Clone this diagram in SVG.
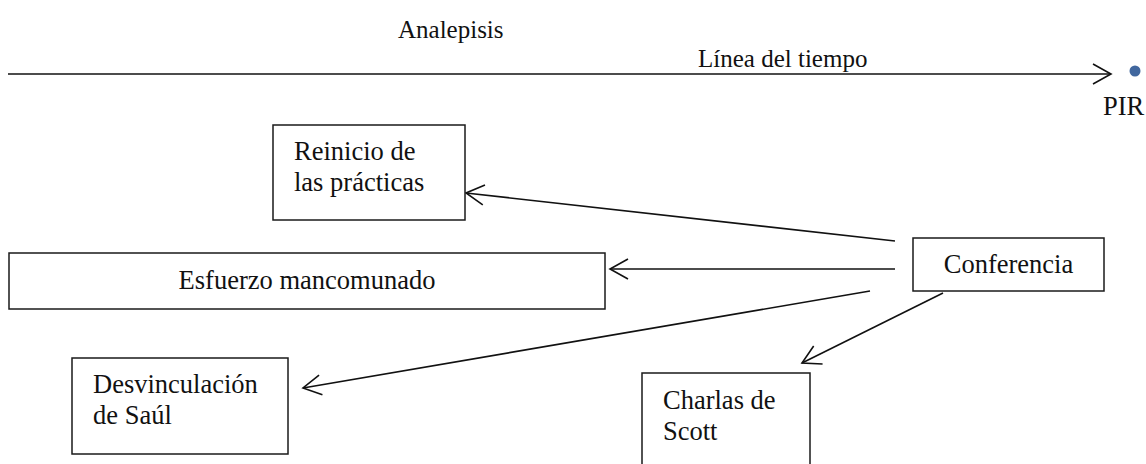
<svg xmlns="http://www.w3.org/2000/svg" width="1146" height="464" viewBox="0 0 1146 464">
  <style>
    .box { fill: #ffffff; stroke: #1a1a1a; stroke-width: 1.5; }
    .lbl { font-family: "Liberation Serif", "Times New Roman", serif; font-size: 26.5px; fill: #111111; }
    .conn { stroke: #111111; stroke-width: 1.6; fill: none; marker-end: url(#open); }
  </style>
  <defs>
    <marker id="open" markerUnits="userSpaceOnUse" viewBox="-22 -13 26 26" markerWidth="26" markerHeight="26" refX="0" refY="0" orient="auto" overflow="visible">
      <path d="M-18,-10 L0,0 L-18,10" fill="none" stroke="#111111" stroke-width="1.6"/>
    </marker>
  </defs>
  <rect width="1146" height="464" fill="#ffffff"/>

  <g id="timeline">
    <text class="lbl" x="398" y="38" style="font-size:25px">Analepisis</text>
    <text class="lbl" x="698" y="67" style="font-size:25px">Línea del tiempo</text>
    <text class="lbl" x="1103" y="115">PIR</text>
    <circle cx="1135" cy="71" r="5.5" fill="#41679e"/>
  </g>

  <g id="connectors">
    <line class="conn" x1="8" y1="74" x2="1111" y2="74"/>
    <line class="conn" x1="895" y1="241" x2="466" y2="193"/>
    <line class="conn" x1="895" y1="269" x2="610" y2="269"/>
    <line class="conn" x1="870" y1="291" x2="303" y2="388"/>
    <line class="conn" x1="943" y1="293" x2="802" y2="363"/>
  </g>

  <g id="node-reinicio">
    <rect class="box" x="273" y="125" width="192" height="95"/>
    <text class="lbl" x="294" y="160">Reinicio de</text>
    <text class="lbl" x="294" y="191">las prácticas</text>
  </g>

  <g id="node-esfuerzo">
    <rect class="box" x="9" y="253" width="596" height="56"/>
    <text class="lbl" x="307" y="289" text-anchor="middle">Esfuerzo mancomunado</text>
  </g>

  <g id="node-conferencia">
    <rect class="box" x="913" y="238" width="191" height="53"/>
    <text class="lbl" x="1008.5" y="273" text-anchor="middle">Conferencia</text>
  </g>

  <g id="node-desvinculacion">
    <rect class="box" x="72" y="358" width="216" height="96"/>
    <text class="lbl" x="93" y="393">Desvinculación</text>
    <text class="lbl" x="93" y="424">de Saúl</text>
  </g>

  <g id="node-charlas">
    <rect class="box" x="642" y="373" width="168" height="100"/>
    <text class="lbl" x="663" y="409">Charlas de</text>
    <text class="lbl" x="663" y="440">Scott</text>
  </g>
</svg>
